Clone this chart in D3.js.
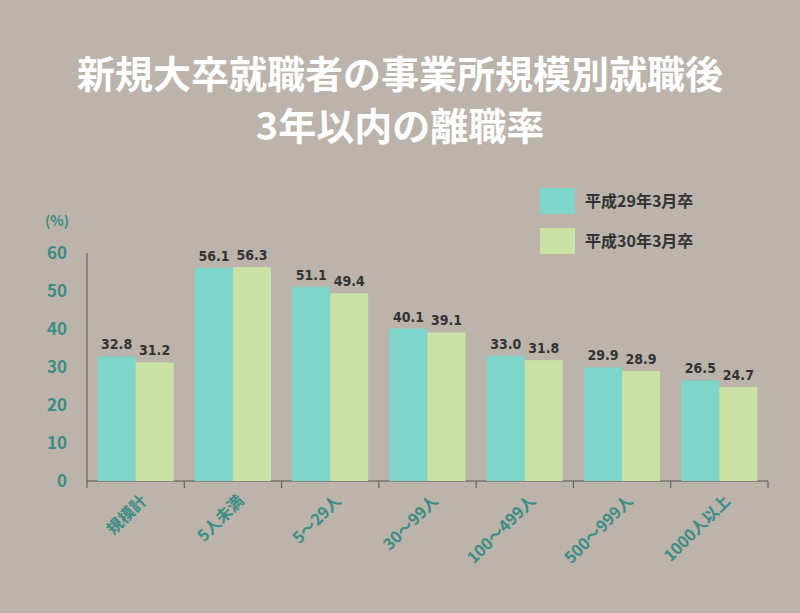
<!DOCTYPE html>
<html><head><meta charset="utf-8">
<script src="https://cdn.jsdelivr.net/npm/d3@7"></script>
<style>body{margin:0;background:#bcb3aa}</style></head>
<body><svg id="c" width="800" height="613"></svg>
<script>
const categories=["規模計","5人未満","5～29人","30～99人","100～499人","500～999人","1000人以上"];
const seriesNames=["平成29年3月卒","平成30年3月卒"];
const h29=[32.8,56.1,51.1,40.1,33.0,29.9,26.5];
const h30=[31.2,56.3,49.4,39.1,31.8,28.9,24.7];
const yTicks=[0,10,20,30,40,50,60];
const colors=["#7dd5cb","#cbe2a5"];
const font="'Noto Sans CJK JP','Noto Sans',sans-serif";
const svg=d3.select("#c");
svg.append("rect").attr("width",800).attr("height",613).attr("fill","#bcb3aa");
const t=svg.append("text").attr("x",400).attr("text-anchor","middle").attr("fill","#fff").attr("font-family",font).attr("font-weight","bold").attr("font-size",38);
t.append("tspan").attr("x",400).attr("y",88).text("新規大卒就職者の事業所規模別就職後");
t.append("tspan").attr("x",400).attr("y",140).text("3年以内の離職率");
const x=d3.scaleBand().domain(categories).range([87,768]);
const y=d3.scaleLinear().domain([0,60]).range([481,253]);
const g=svg.append("g");
yTicks.forEach(v=>g.append("text").attr("x",67).attr("y",y(v)+6).attr("text-anchor","end").attr("fill","#3a8c84").attr("font-family",font).attr("font-weight","bold").attr("font-size",17).text(v));
g.append("text").attr("x",57).attr("y",226).attr("text-anchor","middle").attr("fill","#3a8c84").attr("font-family",font).attr("font-weight","bold").attr("font-size",14).text("(%)");
g.append("line").attr("x1",87).attr("x2",87).attr("y1",y(60)).attr("y2",481).attr("stroke","#555");
g.append("line").attr("x1",87).attr("x2",768).attr("y1",481).attr("y2",481).attr("stroke","#555");
categories.concat(["_end"]).forEach((c,i)=>{const xx=87+i*x.bandwidth();g.append("line").attr("x1",xx).attr("x2",xx).attr("y1",481).attr("y2",488).attr("stroke","#555");});
const bw=38;
[h29,h30].forEach((arr,s)=>{
 arr.forEach((v,i)=>{
  const cx=x(categories[i])+x.bandwidth()/2;
  const bx=cx-bw+s*bw;
  g.append("rect").attr("x",bx).attr("y",y(v)).attr("width",bw).attr("height",481-y(v)).attr("fill",colors[s]);
  g.append("text").attr("x",bx+bw/2).attr("y",y(v)-7).attr("text-anchor","middle").attr("fill","#333").attr("font-family","'Liberation Sans Narrow','DejaVu Sans Condensed',sans-serif").attr("font-weight","bold").attr("font-size",14).text(v.toFixed(1));
 });
});
categories.forEach(c=>{
 const cx=x(c)+x.bandwidth()/2+4;
 g.append("text").attr("transform",`translate(${cx},494) rotate(-45)`).attr("text-anchor","end").attr("dy","0.7em").attr("fill","#3a8c84").attr("font-family",font).attr("font-weight","bold").attr("font-size",16).text(c);
});
seriesNames.forEach((n,i)=>{
 const yy=188+i*40;
 svg.append("rect").attr("x",540).attr("y",yy).attr("width",35).attr("height",26).attr("fill",colors[i]);
 svg.append("text").attr("x",585).attr("y",yy+19).attr("fill","#333").attr("font-family",font).attr("font-weight","bold").attr("font-size",16).text(n);
});
</script></body></html>
